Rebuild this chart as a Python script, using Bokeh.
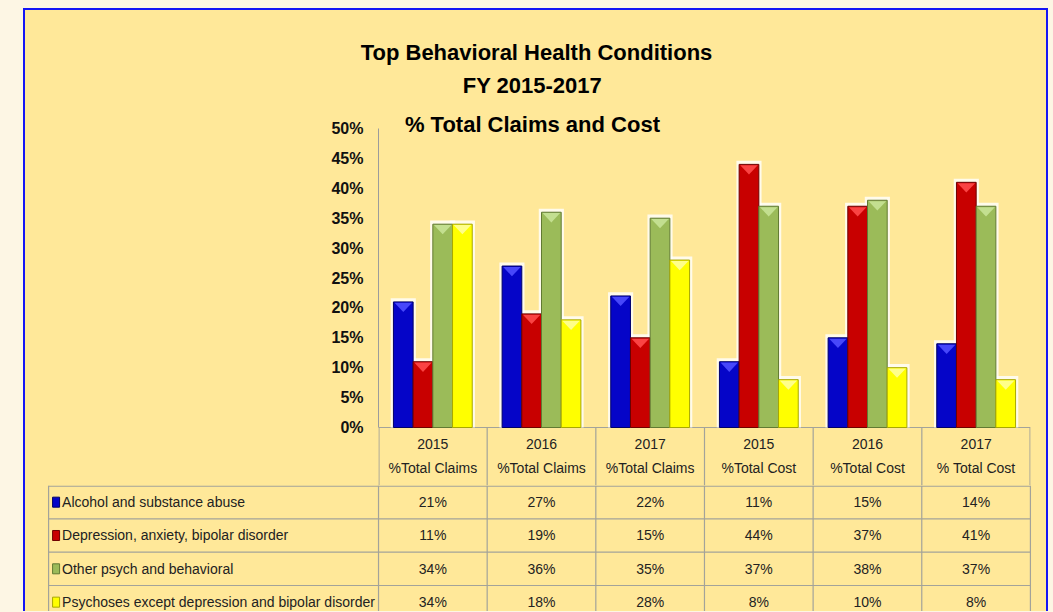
from bokeh.plotting import figure
from bokeh.models import FactorRange, Range1d, FixedTicker, PrintfTickFormatter, ColumnDataSource
from bokeh.transform import dodge
from bokeh.layouts import column
from bokeh.core.properties import value
from bokeh.embed import file_html
from bokeh.resources import INLINE

# ---------------- data ----------------
years = ["2015", "2016", "2017", "2015", "2016", "2017"]
measures = ["%Total Claims", "%Total Claims", "%Total Claims", "%Total Cost", "%Total Cost", "% Total Cost"]
categories = [f"{y} {m}" for y, m in zip(years, measures)]

series_names = [
    "Alcohol and substance abuse",
    "Depression, anxiety, bipolar disorder",
    "Other psych and behavioral",
    "Psychoses except depression and bipolar disorder",
]
alcohol = [21, 27, 22, 11, 15, 14]
depression = [11, 19, 15, 44, 37, 41]
other_psych = [34, 36, 35, 37, 38, 37]
psychoses = [34, 18, 28, 8, 10, 8]
series_values = [alcohol, depression, other_psych, psychoses]

y_ticks = [0, 5, 10, 15, 20, 25, 30, 35, 40, 45, 50]
title_lines = ["Top Behavioral Health Conditions", "FY 2015-2017", "%  Total Claims and Cost"]

# ---------------- styles ----------------
BG = "#FFE899"
CREAM = "#FDF6E4"
BLUE_BORDER = "#1515F5"
FONT = "Liberation Sans"
fills = ["#0505C8", "#C80000", "#9BBB59", "#FFFF00"]
edges = ["#00006A", "#6E0000", "#617A32", "#A8A800"]
highs = ["#4F4FFF", "#FF4A4A", "#C8E396", "#FFFF99"]
GRID = "#A3A39A"
TXT = "#222222"
TITLE_SIZE = "22px"
TABLE_SIZE = "14px"

W = 1021
PX_PER_PCT = 5.98
COL_PX = 108.67
TITLE_H = 62
CH = 413
HEADER_H = 58
TH = 126
ROW_H = 33.33

common = dict(output_backend="svg", toolbar_location=None, background_fill_color=None,
              border_fill_color=None, outline_line_color=None, frame_align=False)

# ---------------- title strip ----------------
tfig = figure(width=W, height=TITLE_H, x_range=Range1d(0, W), y_range=Range1d(TITLE_H, 0),
              x_axis_location=None, y_axis_location=None, min_border=0, **common)
tfig.grid.visible = False
tfig.text(x=[511], y=[42], text=title_lines[:1], text_align="center",
          text_baseline="middle", text_font=value(FONT), text_font_size=TITLE_SIZE,
          text_font_style="bold", text_color="#000000")

# ---------------- chart ----------------
y_start = -HEADER_H / PX_PER_PCT
y_end = y_start + CH / PX_PER_PCT
chart = figure(width=W, height=CH, x_range=FactorRange(factors=categories),
               y_range=Range1d(y_start, y_end), x_axis_location=None,
               min_border_left=353, min_border_right=16, min_border_top=0,
               min_border_bottom=0, **common)
chart.grid.visible = False

ya = chart.yaxis[0]
ya.ticker = FixedTicker(ticks=y_ticks)
ya.formatter = PrintfTickFormatter(format="%d%%")
ya.bounds = (0, 50)
ya.major_tick_line_color = None
ya.minor_tick_line_color = None
ya.axis_line_color = "#9C9C9C"
ya.major_label_text_font = FONT
ya.major_label_text_font_size = "16px"
ya.major_label_text_font_style = "bold"
ya.major_label_text_color = "#111111"
ya.major_label_standoff = 9

# header cells of the data table (below the bars)
hx0 = [0, 0.004, 1, 2, 3, 4, 5, 5.996]
hy0 = [0, 0, 0, 0, 0, 0, 0, 0]
hx1 = [6, 0.004, 1, 2, 3, 4, 5, 5.996]
hy1 = [0] + [y_start] * 7
chart.segment(hx0, hy0, hx1, hy1, line_color=GRID, line_width=1.2)

cx = [j + 0.5 for j in range(6)]
chart.text(x=cx, y=[-16 / PX_PER_PCT] * 6, text=years, text_align="center",
           text_baseline="middle", text_font=value(FONT), text_font_size=TABLE_SIZE,
           text_color=TXT)
chart.text(x=cx, y=[-40.7 / PX_PER_PCT] * 6, text=measures, text_align="center",
           text_baseline="middle", text_font=value(FONT), text_font_size=TABLE_SIZE,
           text_color=TXT)

BW = 0.1813
offsets = [(-1.5 + i) * BW for i in range(4)]
keys = ["alcohol", "depression", "other", "psychoses"]
data = {"cat": categories}
for k, vals in zip(keys, series_values):
    data[k] = vals
    data[k + "_glow"] = [v + 0.6 for v in vals]
src = ColumnDataSource(data)

for i, k in enumerate(keys):
    chart.vbar(x=dodge("cat", offsets[i], range=chart.x_range), top=k + "_glow",
               width=BW + 0.05, source=src, fill_color="#FFFFFF", fill_alpha=0.8,
               line_color=None)
for i, k in enumerate(keys):
    chart.vbar(x=dodge("cat", offsets[i], range=chart.x_range), top=k,
               width=BW, source=src, fill_color=fills[i], line_color=edges[i],
               line_width=1)
    xs, ys = [], []
    for j, v in enumerate(series_values[i]):
        c = j + 0.5 + offsets[i]
        xs.append([c - BW / 2 + 0.01, c + BW / 2 - 0.01, c])
        ys.append([v - 0.15, v - 0.15, v - 1.7])
    chart.patches(xs, ys, fill_color=highs[i], line_color=None, fill_alpha=0.9)

chart.text(x=[(532 - 378) / COL_PX, (535 - 378) / COL_PX],
           y=[y_end - 13 / PX_PER_PCT, y_end - 52 / PX_PER_PCT],
           text=title_lines[1:], text_align="center", text_baseline="middle",
           text_font=value(FONT), text_font_size=TITLE_SIZE, text_font_style="bold",
           text_color="#000000")

# ---------------- table body ----------------
LEG_W = (378 - 48) / COL_PX
table = figure(width=W, height=TH, x_range=Range1d(-LEG_W - 0.01, 6.01),
               y_range=Range1d(TH, 0), x_axis_location=None, y_axis_location=None,
               min_border_left=22, min_border_right=15, min_border_top=0,
               min_border_bottom=0, **common)
table.grid.visible = False

x0s, y0s, x1s, y1s = [], [], [], []
for r in range(4):
    yy = max(r * ROW_H, 0.6)
    x0s.append(-LEG_W); y0s.append(yy); x1s.append(6); y1s.append(yy)
for c in range(7):
    x0s.append(c); y0s.append(0); x1s.append(c); y1s.append(TH)
x0s.append(-LEG_W); y0s.append(0); x1s.append(-LEG_W); y1s.append(TH)
table.segment(x0s, y0s, x1s, y1s, line_color=GRID, line_width=1.2)

for i, vals in enumerate(series_values):
    yc = (i + 0.5) * ROW_H
    table.text(x=cx, y=[yc] * 6, text=[f"{v}%" for v in vals], text_align="center",
               text_baseline="middle", text_font=value(FONT), text_font_size=TABLE_SIZE,
               text_color=TXT)
    table.rect(x=[-LEG_W + 7.5 / COL_PX], y=[yc], width=7, height=10,
               width_units="screen", height_units="screen", fill_color=fills[i],
               line_color=edges[i], line_width=1)
    table.text(x=[-LEG_W + 13.5 / COL_PX], y=[yc], text=[series_names[i]],
               text_align="left", text_baseline="middle", text_font=value(FONT),
               text_font_size=TABLE_SIZE, text_color=TXT)

inner = column(tfig, chart, table, margin=(8, 0, 0, 23),
               styles={"background-color": BG,
                       "border-top": f"2px solid {BLUE_BORDER}",
                       "border-left": f"2px solid {BLUE_BORDER}",
                       "border-right": f"2px solid {BLUE_BORDER}"})
layout = column(inner, width=1053, height=612, styles={"background-color": CREAM})

open("out.html", "w").write(file_html(layout, INLINE))
